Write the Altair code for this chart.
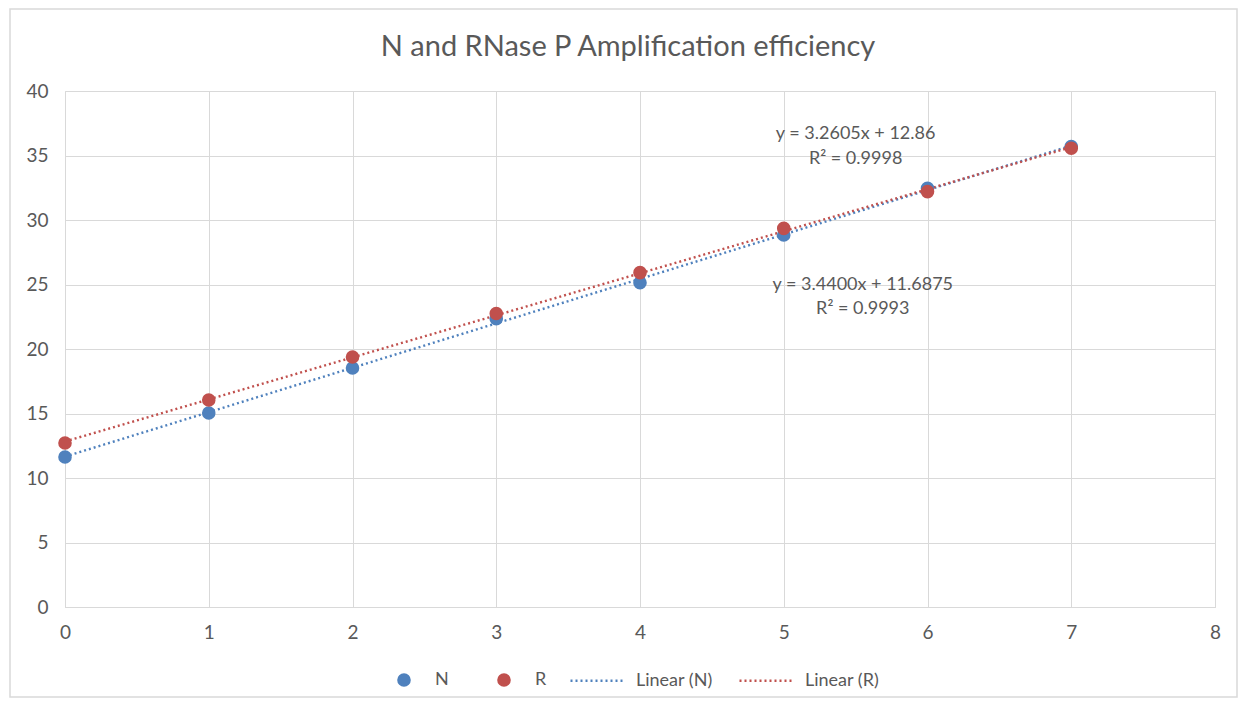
import altair as alt
import pandas as pd

# ---- data ----
x_vals = [0, 1, 2, 3, 4, 5, 6, 7]
n_vals = [11.63, 15.04, 18.53, 22.35, 25.14, 28.84, 32.45, 35.70]
r_vals = [12.71, 16.05, 19.38, 22.75, 25.92, 29.35, 32.20, 35.56]
series_names = ["N", "R"]
trend_names = ["Linear (N)", "Linear (R)"]
colors = ["#4F81BD", "#C0504D"]

ann_x = [5.5, 5.5, 5.55, 5.55]
ann_y = [36.7, 34.7, 25.0, 23.1]
ann_text = ["y = 3.2605x + 12.86", "R² = 0.9998", "y = 3.4400x + 11.6875", "R² = 0.9993"]

FONT = "Lato"
GREY = "#595959"

rows = []
for xv, yv in zip(x_vals, n_vals):
    rows.append({"x": xv, "y": yv, "series": "N", "trend": "Linear (N)"})
for xv, yv in zip(x_vals, r_vals):
    rows.append({"x": xv, "y": yv, "series": "R", "trend": "Linear (R)"})
df = pd.DataFrame(rows)
ann = pd.DataFrame({"x": ann_x, "y": ann_y, "t": ann_text})

xs = alt.X("x:Q", scale=alt.Scale(domain=[0, 8], nice=False),
           axis=alt.Axis(values=list(range(0, 9)), format="d", title=None, grid=True,
                         gridColor="#d9d9d9", domain=True, domainColor="#d9d9d9",
                         ticks=False, labelPadding=16, labelFontSize=19,
                         labelColor=GREY, labelFont=FONT, labelFlush=False))
ys = alt.Y("y:Q", scale=alt.Scale(domain=[0, 40], nice=False),
           axis=alt.Axis(values=list(range(0, 41, 5)), format="d", title=None, grid=True,
                         gridColor="#d9d9d9", domain=False, ticks=False,
                         labelPadding=17, labelFontSize=19, labelColor=GREY,
                         labelFont=FONT))

base = alt.Chart(df)

lines = base.transform_regression(
    "x", "y", groupby=["trend"]
).mark_line(strokeWidth=2.4, strokeDash=[2, 3]).encode(
    x=xs, y=ys,
    stroke=alt.Stroke("trend:N", scale=alt.Scale(domain=trend_names, range=colors),
                      legend=alt.Legend(title=None, orient="none", direction="horizontal",
                                        legendX=504, legendY=561,
                                        symbolType="stroke", symbolSize=2916,
                                        symbolStrokeWidth=2.4, symbolDash=[2, 3],
                                        labelFontSize=18, labelColor=GREY, labelFont=FONT,
                                        labelOffset=10, columnPadding=21)),
)

points = base.mark_point(filled=True, size=185, opacity=1).encode(
    x=xs, y=ys,
    color=alt.Color("series:N", scale=alt.Scale(domain=series_names, range=colors),
                    legend=alt.Legend(title=None, orient="none", direction="horizontal",
                                      legendX=330, legendY=580,
                                      symbolType="circle", symbolSize=185,
                                      symbolOpacity=1,
                                      labelFontSize=18, labelColor=GREY, labelFont=FONT,
                                      labelOffset=22, columnPadding=46)),
)

texts = alt.Chart(ann).mark_text(fontSize=18, color=GREY, font=FONT, align="center").encode(
    x="x:Q", y="y:Q", text="t:N"
)

# light frame around the whole chart (decoration, like the reference's chart border)
frame = alt.Chart(ann).mark_rect(fill=None, stroke="#d9d9d9", strokeWidth=1.5).encode(
    x=alt.value(-55), x2=alt.value(1172), y=alt.value(-82), y2=alt.value(606)
).transform_filter(alt.datum.t == ann_text[0])

chart = alt.layer(frame, lines, points, texts).properties(
    width=1150, height=516,
    title=alt.TitleParams("N and RNase P Amplification efficiency", fontSize=29,
                          font=FONT, fontWeight="normal", color=GREY, anchor="middle",
                          dx=-12, offset=-54),
    padding={"left": 57, "top": 83, "right": 23, "bottom": 91},
    autosize=alt.AutoSizeParams(type="none"),
).configure_view(stroke=None, clip=False).configure(background="white")

chart.save("out.html", embed_options={"renderer": "svg", "actions": False})
